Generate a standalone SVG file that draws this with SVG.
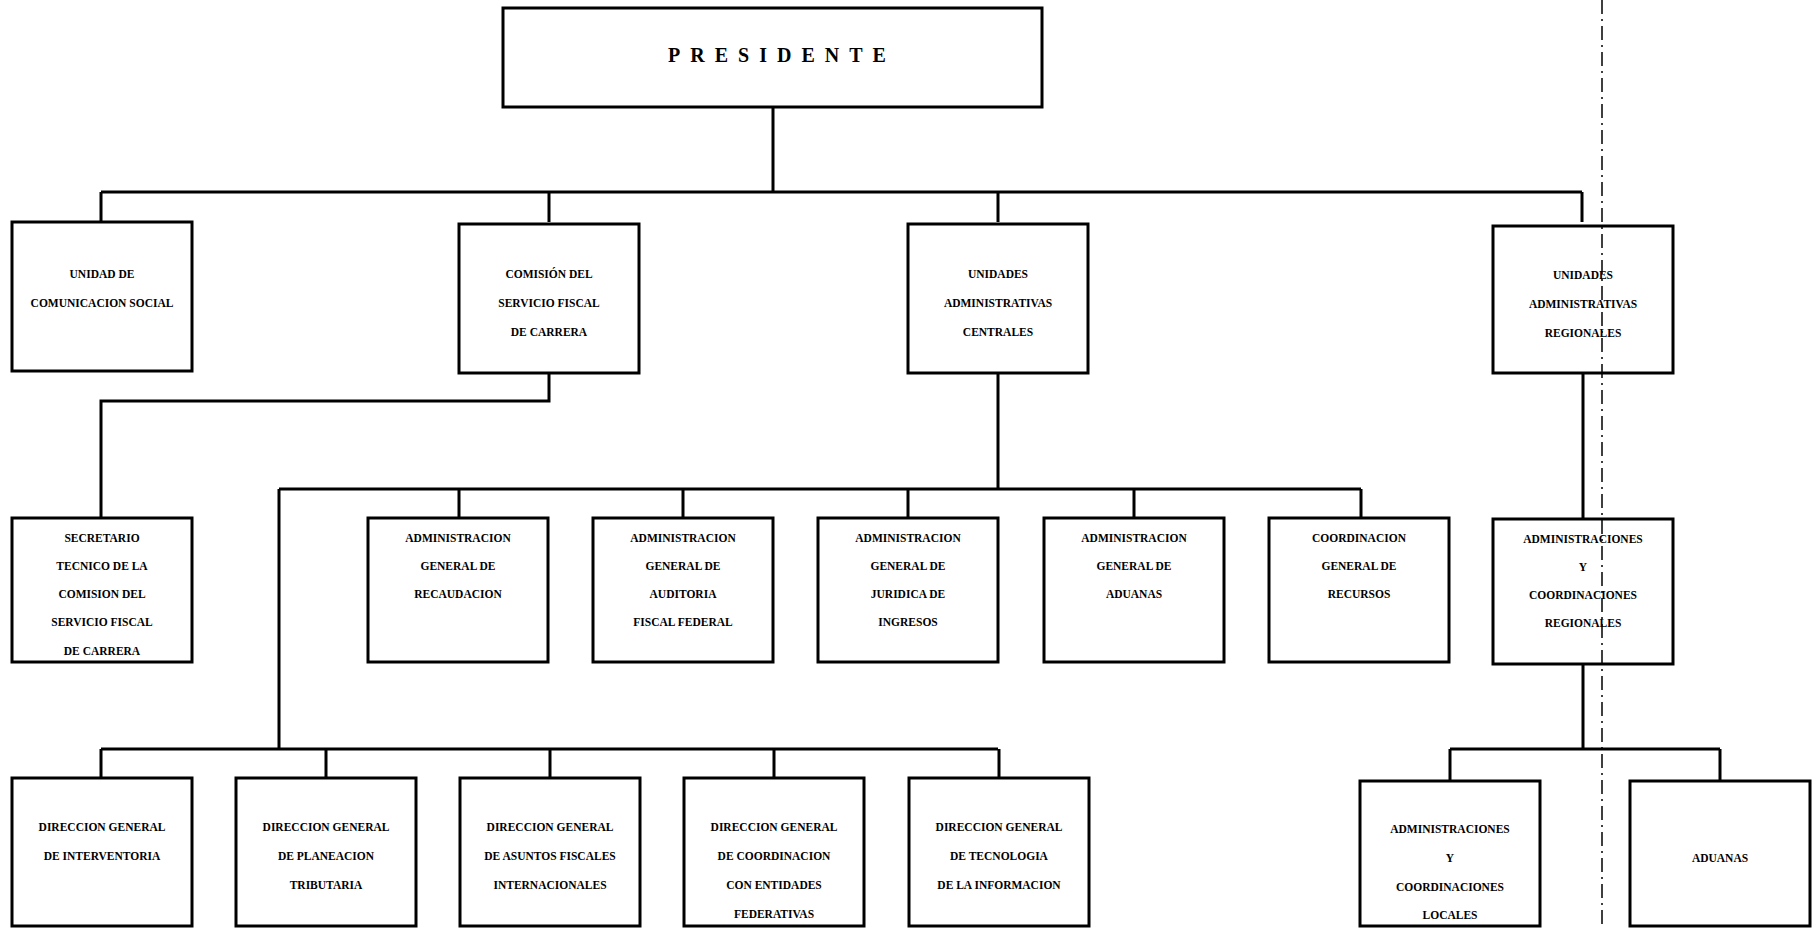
<svg xmlns="http://www.w3.org/2000/svg" width="1816" height="928" viewBox="0 0 1816 928">
<style>
.box{fill:#fff;stroke:#000;stroke-width:3}
.ln{fill:none;stroke:#000;stroke-width:3}
.t{font-family:"Liberation Serif","Times New Roman",serif;font-weight:bold;font-size:11.5px;fill:#000;text-anchor:middle}
.big{font-family:"Liberation Serif","Times New Roman",serif;font-weight:bold;font-size:20px;letter-spacing:10px;fill:#000;text-anchor:middle}
.dd{fill:none;stroke:#000;stroke-width:1.5;stroke-dasharray:14 5 2 5}
</style>
<rect width="1816" height="928" fill="#fff"/>
<g id="connectors">
<path class="ln" d="M773 107V192M101 192H1582M101 192V222M549 192V222M998 192V222M1582 192V222"/>
<path class="ln" d="M549 371V401H101V518"/>
<path class="ln" d="M998 371V489M279 489H1361M459 489V518M683 489V518M908 489V518M1134 489V518M1361 489V518"/>
<path class="ln" d="M279 489V749M101 749H998M101 749V778M326 749V778M550 749V778M774 749V778M999 749V778"/>
<path class="ln" d="M1583 371V519M1583 664V749M1450 749H1720M1450 749V781M1720 749V781"/>
</g>
<g id="presidente"><rect class="box" x="503" y="8" width="539" height="99"/><text class="big" x="782" y="62">PRESIDENTE</text></g>
<g id="comunicacion"><rect class="box" x="12" y="222" width="180" height="149"/><text class="t" x="102" y="278">UNIDAD DE</text><text class="t" x="102" y="307">COMUNICACION SOCIAL</text></g>
<g id="comision"><rect class="box" x="459" y="224" width="180" height="149"/><text class="t" x="549" y="278">COMISIÓN DEL</text><text class="t" x="549" y="307">SERVICIO FISCAL</text><text class="t" x="549" y="336">DE CARRERA</text></g>
<g id="centrales"><rect class="box" x="908" y="224" width="180" height="149"/><text class="t" x="998" y="278">UNIDADES</text><text class="t" x="998" y="307">ADMINISTRATIVAS</text><text class="t" x="998" y="336">CENTRALES</text></g>
<g id="regionales"><rect class="box" x="1493" y="226" width="180" height="147"/><text class="t" x="1583" y="279">UNIDADES</text><text class="t" x="1583" y="308">ADMINISTRATIVAS</text><text class="t" x="1583" y="337">REGIONALES</text></g>
<g id="secretario"><rect class="box" x="12" y="518" width="180" height="144"/><text class="t" x="102" y="542">SECRETARIO</text><text class="t" x="102" y="570">TECNICO DE LA</text><text class="t" x="102" y="598">COMISION DEL</text><text class="t" x="102" y="626">SERVICIO FISCAL</text><text class="t" x="102" y="655">DE CARRERA</text></g>
<g id="recaudacion"><rect class="box" x="368" y="518" width="180" height="144"/><text class="t" x="458" y="542">ADMINISTRACION</text><text class="t" x="458" y="570">GENERAL DE</text><text class="t" x="458" y="598">RECAUDACION</text></g>
<g id="auditoria"><rect class="box" x="593" y="518" width="180" height="144"/><text class="t" x="683" y="542">ADMINISTRACION</text><text class="t" x="683" y="570">GENERAL DE</text><text class="t" x="683" y="598">AUDITORIA</text><text class="t" x="683" y="626">FISCAL FEDERAL</text></g>
<g id="juridica"><rect class="box" x="818" y="518" width="180" height="144"/><text class="t" x="908" y="542">ADMINISTRACION</text><text class="t" x="908" y="570">GENERAL DE</text><text class="t" x="908" y="598">JURIDICA DE</text><text class="t" x="908" y="626">INGRESOS</text></g>
<g id="aduanas-central"><rect class="box" x="1044" y="518" width="180" height="144"/><text class="t" x="1134" y="542">ADMINISTRACION</text><text class="t" x="1134" y="570">GENERAL DE</text><text class="t" x="1134" y="598">ADUANAS</text></g>
<g id="recursos"><rect class="box" x="1269" y="518" width="180" height="144"/><text class="t" x="1359" y="542">COORDINACION</text><text class="t" x="1359" y="570">GENERAL DE</text><text class="t" x="1359" y="598">RECURSOS</text></g>
<g id="admin-regionales"><rect class="box" x="1493" y="519" width="180" height="145"/><text class="t" x="1583" y="543">ADMINISTRACIONES</text><text class="t" x="1583" y="571">Y</text><text class="t" x="1583" y="599">COORDINACIONES</text><text class="t" x="1583" y="627">REGIONALES</text></g>
<g id="interventoria"><rect class="box" x="12" y="778" width="180" height="148"/><text class="t" x="102" y="831">DIRECCION GENERAL</text><text class="t" x="102" y="860">DE INTERVENTORIA</text></g>
<g id="planeacion"><rect class="box" x="236" y="778" width="180" height="148"/><text class="t" x="326" y="831">DIRECCION GENERAL</text><text class="t" x="326" y="860">DE PLANEACION</text><text class="t" x="326" y="889">TRIBUTARIA</text></g>
<g id="asuntos"><rect class="box" x="460" y="778" width="180" height="148"/><text class="t" x="550" y="831">DIRECCION GENERAL</text><text class="t" x="550" y="860">DE ASUNTOS FISCALES</text><text class="t" x="550" y="889">INTERNACIONALES</text></g>
<g id="coordinacion"><rect class="box" x="684" y="778" width="180" height="148"/><text class="t" x="774" y="831">DIRECCION GENERAL</text><text class="t" x="774" y="860">DE COORDINACION</text><text class="t" x="774" y="889">CON ENTIDADES</text><text class="t" x="774" y="918">FEDERATIVAS</text></g>
<g id="tecnologia"><rect class="box" x="909" y="778" width="180" height="148"/><text class="t" x="999" y="831">DIRECCION GENERAL</text><text class="t" x="999" y="860">DE TECNOLOGIA</text><text class="t" x="999" y="889">DE LA INFORMACION</text></g>
<g id="locales"><rect class="box" x="1360" y="781" width="180" height="145"/><text class="t" x="1450" y="833">ADMINISTRACIONES</text><text class="t" x="1450" y="862">Y</text><text class="t" x="1450" y="891">COORDINACIONES</text><text class="t" x="1450" y="919">LOCALES</text></g>
<g id="aduanas"><rect class="box" x="1630" y="781" width="180" height="145"/><text class="t" x="1720" y="862">ADUANAS</text></g>
<line class="dd" x1="1602" y1="0" x2="1602" y2="928"/>
</svg>
